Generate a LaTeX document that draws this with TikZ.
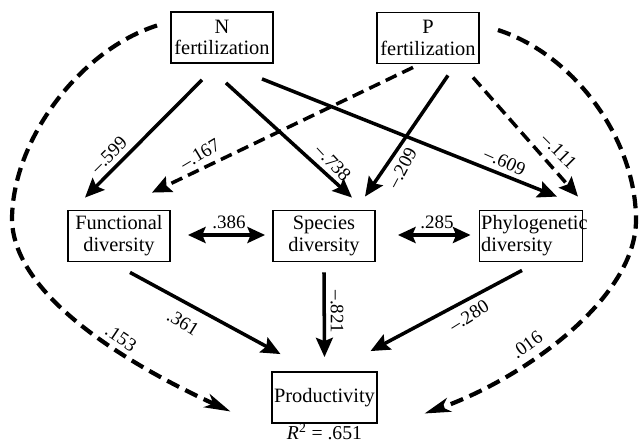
\documentclass[tikz,border=0pt]{standalone}
\usepackage{fontspec}
\setmainfont{Liberation Serif}
\usepackage{tikz}
\usetikzlibrary{arrows.meta,positioning,calc}

\begin{document}
\begin{tikzpicture}[
  x=0.025cm, y=-0.025cm,
  varbox/.style={
    rectangle, draw=black, line width=1.3pt, fill=white,
    minimum width=2.55cm, minimum height=1.275cm, inner sep=1.2pt,
    align=center, font=\fontsize{14.5}{15.5}\selectfont
  },
  arr/.style={-{Stealth[length=4.8mm,width=4.2mm,inset=0.8mm]}, line width=2.5pt},
  darr/.style={arr, dash pattern=on 8.5pt off 4.5pt},
  biarr/.style={{Stealth[length=4.4mm,width=4mm,inset=0.8mm]}-{Stealth[length=4.4mm,width=4mm,inset=0.8mm]}, line width=2.5pt},
  curvearr/.style={-{Stealth[length=6.5mm,width=3.6mm,inset=1.8mm]}, line width=3pt, dash pattern=on 9.5pt off 5pt},
  coef/.style={font=\fontsize{13.5}{14}\selectfont, inner sep=0pt}
]
\useasboundingbox (0,0) rectangle (641,442);

% --- fertilization (top row)
\node[varbox] (nfert) at (222,37.5) {N\\fertilization};
\node[varbox] (pfert) at (428,38)   {P\\fertilization};

% --- diversity (middle row)
\node[varbox] (func)  at (119,236) {Functional\\diversity};
\node[varbox] (spec)  at (324,236) {Species\\diversity};
\node[varbox, align=left, text width=2.49cm] (phylo) at (531,236) {Phylogenetic\\diversity};

% --- productivity
\node[varbox] (prod)  at (324.5,397.5) {Productivity};
\node[coef, font=\fontsize{14}{14}\selectfont, anchor=base] (rsq) at ($(prod.south)+(0,16)$) {\textit{R}\textsuperscript{2} = .651};

% --- Arrows: N -> diversity
\draw[arr] ($(nfert.south)+(-20,16)$) -- ($(func.north)+(-34,-12)$);
\draw[arr] ($(nfert.south)+(4,19)$)   -- ($(spec.north)+(28,-12)$);
\draw[arr] ($(nfert.south)+(40,15)$)  -- ($(phylo.north)+(26,-13)$);

% --- Arrows: P -> diversity
\draw[darr] ($(pfert.south)+(-15,3)$) -- ($(func.north)+(33,-17)$);
\draw[arr]  ($(pfert.south)+(20,11)$) -- ($(spec.north)+(41,-13)$);
\draw[darr] ($(pfert.south)+(45,13)$) -- ($(phylo.north)+(47,-13)$);

% --- Arrows: correlations
\draw[biarr] ($(func.east)+(17,-1)$) -- ($(spec.west)+(-7,-1)$);
\draw[biarr] ($(spec.east)+(22,-1)$) -- ($(phylo.west)+(-8,-1)$);

% --- Arrows: diversity -> productivity
\draw[arr] ($(func.south)+(11,10)$) -- ($(prod.north)+(-44,-17)$);
\draw[arr] ($(spec.south)+(0,10)$)  -- ($(prod.north)+(0,-14)$);
\draw[arr] ($(phylo.south)+(-9,8)$) -- ($(prod.north)+(46,-20)$);

% --- Arrows: fertilization -> productivity (direct)
\draw[curvearr] ($(nfert.west)+(-13,-12)$) .. controls (80,50) and (12,140) .. (12,220)
  .. controls (14,300) and (140,370) .. ($(prod.west)+(-41,14)$);
\draw[curvearr] ($(pfert.east)+(18,-8)$) .. controls (575,55) and (636,140) .. (636,220)
  .. controls (636,300) and (520,380) .. ($(prod.east)+(47,16)$);

% --- Labels
\node[coef, rotate=45]  (l599) at (109,155) {--.599};
\node[coef, rotate=31]  (l167) at (200,154) {--.167};
\node[coef, rotate=-47] (l738) at (333,163) {--.738};
\node[coef, rotate=62]  (l209) at (402,168) {--.209};
\node[coef, rotate=-24] (l609) at (505,162) {--.609};
\node[coef, rotate=-45] (l111) at (559,151) {--.111};
\node[coef]             (l386) at (229,222) {.386};
\node[coef]             (l285) at (437,222) {.285};
\node[coef, rotate=-32] (l361) at (183,323) {.361};
\node[coef, rotate=-90] (l821) at (337,312) {--.821};
\node[coef, rotate=32]  (l280) at (469,316) {--.280};
\node[coef, rotate=-34] (l153) at (121,338) {.153};
\node[coef, rotate=36]  (l016) at (527,345) {.016};

\end{tikzpicture}
\end{document}
